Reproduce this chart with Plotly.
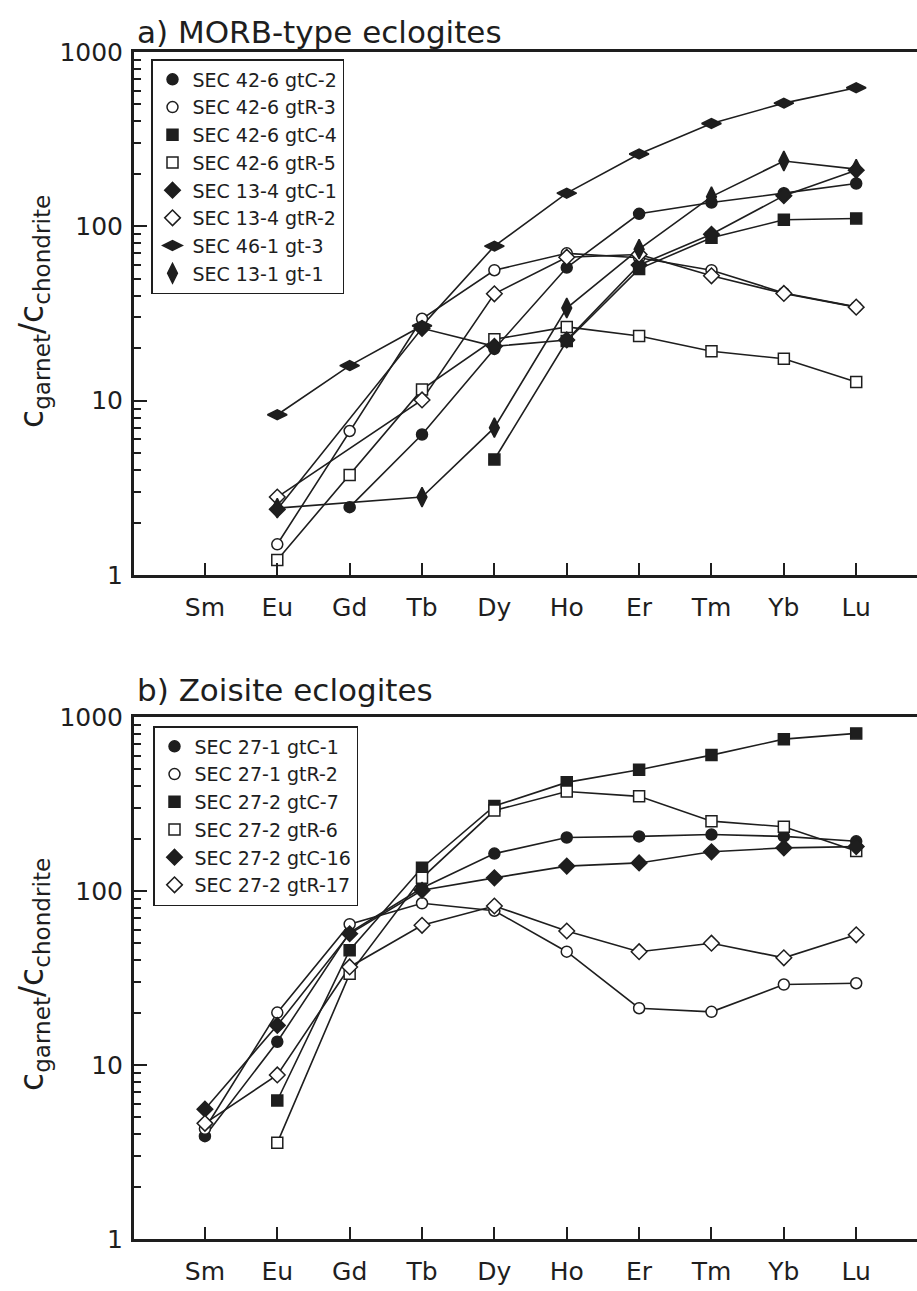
import plotly.graph_objects as go

# ---------------- data ----------------
elements = ["Sm", "Eu", "Gd", "Tb", "Dy", "Ho", "Er", "Tm", "Yb", "Lu"]

# a) MORB-type eclogites
a_names = ["SEC 42-6 gtC-2", "SEC 42-6 gtR-3", "SEC 42-6 gtC-4", "SEC 42-6 gtR-5",
           "SEC 13-4 gtC-1", "SEC 13-4 gtR-2", "SEC 46-1 gt-3", "SEC 13-1 gt-1"]
sec42_6_gtC2 = [None, None, 2.45, 6.4, 19.8, 58, 118, 137, 155, 176]
sec42_6_gtR3 = [None, 1.5, 6.7, 29.5, 56, 70, 66, 56, 41.5, 34.5]
sec42_6_gtC4 = [None, None, None, None, 4.6, 22, 57, 86, 109, 111]
sec42_6_gtR5 = [None, 1.22, 3.75, 11.6, 22.5, 26.5, 23.5, 19.2, 17.4, 12.8]
sec13_4_gtC1 = [None, 2.38, None, 26.0, 20.5, 22.3, 60, 90, 150, 210]
sec13_4_gtR2 = [None, 2.8, None, 10.1, 41, 66.5, 69, 52, 41.2, 34.4]
sec46_1_gt3 = [None, 8.3, 15.9, 26.9, 77, 155, 260, 389, 509, 624]
sec13_1_gt1 = [None, 2.42, None, 2.8, 7.0, 34, 74, 148, 237, 213]
a_series = [sec42_6_gtC2, sec42_6_gtR3, sec42_6_gtC4, sec42_6_gtR5,
            sec13_4_gtC1, sec13_4_gtR2, sec46_1_gt3, sec13_1_gt1]

# b) Zoisite eclogites
b_names = ["SEC 27-1 gtC-1", "SEC 27-1 gtR-2", "SEC 27-2 gtC-7", "SEC 27-2 gtR-6",
           "SEC 27-2 gtC-16", "SEC 27-2 gtR-17"]
sec27_1_gtC1 = [3.9, 13.6, 57.7, 104, 164, 203, 206, 211, 206, 193]
sec27_1_gtR2 = [4.3, 20, 64.5, 85, 77, 44.8, 21.2, 20.2, 29, 29.5]
sec27_2_gtC7 = [None, 6.25, 45.7, 136, 308, 421, 498, 604, 746, 805]
sec27_2_gtR6 = [None, 3.57, 33.4, 119, 290, 373, 350, 252, 234, 170]
sec27_2_gtC16 = [5.57, 16.9, 56.8, 101, 119, 139, 145, 168, 177, 180]
sec27_2_gtR17 = [4.62, 8.77, 36.6, 63.5, 82, 58.9, 44.8, 50.1, 41.3, 56]
b_series = [sec27_1_gtC1, sec27_1_gtR2, sec27_2_gtC7, sec27_2_gtR6,
            sec27_2_gtC16, sec27_2_gtR17]

y_tick_vals = [1, 10, 100, 1000]
y_tick_text = ["1", "10", "100", "1000"]

# ---------------- styles ----------------
INK = "#1e1e1e"
FONT = "DejaVu Sans"
a_styles = [("circle", INK, 11), ("circle", "white", 11), ("square", INK, 11),
            ("square", "white", 11), ("diamond", INK, 12), ("diamond", "white", 12),
            ("diamond-wide", INK, 14), ("diamond-tall", INK, 14)]
b_styles = [("circle", INK, 11), ("circle", "white", 11), ("square", INK, 11),
            ("square", "white", 11), ("diamond", INK, 12), ("diamond", "white", 12)]

W, H = 917, 1291
xpos = list(range(len(elements)))

fig = go.Figure()


def add_panel(series, names, styles, xa, ya, legend):
    for s in series:
        fig.add_trace(go.Scatter(x=xpos, y=s, mode="lines", connectgaps=True,
                                 line=dict(color=INK, width=1.6), showlegend=False,
                                 hoverinfo="skip", xaxis=xa, yaxis=ya))
    for s, n, (sym, fill, size) in zip(series, names, styles):
        fig.add_trace(go.Scatter(x=xpos, y=s, mode="markers", name=n,
                                 marker=dict(symbol=sym, color=fill, size=size,
                                             line=dict(color=INK, width=1.5)),
                                 xaxis=xa, yaxis=ya, legend=legend))


add_panel(a_series, a_names, a_styles, "x", "y", "legend")
add_panel(b_series, b_names, b_styles, "x2", "y2", "legend2")

x_left = 134 / W
xrange = [-0.98, 9.84]


def xaxis_cfg():
    return dict(domain=[x_left, 1], range=xrange, tickmode="array", tickvals=xpos,
                ticktext=elements, ticks="inside", ticklen=12, tickwidth=2,
                tickcolor=INK, showline=True, linewidth=3, linecolor=INK,
                mirror=True, showgrid=False, zeroline=False,
                tickfont=dict(family=FONT, size=25, color=INK),
                ticklabelstandoff=8)


minor_vals = [m * 10 ** d for d in range(3) for m in range(2, 10)]


def yaxis_cfg(top_px, bot_px, anchor):
    return dict(type="log", domain=[1 - bot_px / H, 1 - top_px / H], range=[0, 3],
                anchor=anchor, tickmode="array", tickvals=y_tick_vals,
                ticktext=y_tick_text, ticks="inside", ticklen=13, tickwidth=2,
                tickcolor=INK, showline=True, linewidth=3, linecolor=INK,
                mirror=False, showgrid=False, zeroline=False,
                tickfont=dict(family=FONT, size=25, color=INK),
                ticklabelstandoff=3,
                minor=dict(tickmode="array", tickvals=minor_vals, ticks="inside",
                           ticklen=7, tickwidth=1.6, tickcolor=INK, showgrid=False))


ax = xaxis_cfg(); ax["anchor"] = "y"
ax2 = xaxis_cfg(); ax2["anchor"] = "y2"

ytitle = "c<sub>garnet</sub>/c<sub>chondrite</sub>"

leg_common = dict(bgcolor="white", bordercolor=INK, borderwidth=1.5,
                  font=dict(family=FONT, size=19, color=INK),
                  xanchor="left", yanchor="top", tracegroupgap=0)

fig.update_layout(
    width=W, height=H, margin=dict(l=0, r=0, t=0, b=0, autoexpand=False),
    paper_bgcolor="white", plot_bgcolor="white",
    font=dict(family=FONT, color=INK),
    xaxis=ax, xaxis2=ax2,
    yaxis=yaxis_cfg(52, 575, "x"), yaxis2=yaxis_cfg(717, 1239, "x2"),
    legend=dict(x=151 / W, y=1 - 59 / H, **leg_common),
    legend2=dict(x=153 / W, y=1 - 726 / H, **leg_common),
    annotations=[
        dict(text="a) MORB-type eclogites", xref="paper", yref="paper",
             x=135 / W, y=1 - 32 / H, xanchor="left", yanchor="middle",
             showarrow=False, font=dict(family=FONT, size=31, color=INK)),
        dict(text="b) Zoisite eclogites", xref="paper", yref="paper",
             x=135 / W, y=1 - 690 / H, xanchor="left", yanchor="middle",
             showarrow=False, font=dict(family=FONT, size=31, color=INK)),
        dict(text=ytitle, xref="paper", yref="paper", textangle=-90,
             x=33 / W, y=1 - 312 / H, xanchor="center", yanchor="middle",
             showarrow=False, font=dict(family=FONT, size=33, color=INK)),
        dict(text=ytitle, xref="paper", yref="paper", textangle=-90,
             x=33 / W, y=1 - 975 / H, xanchor="center", yanchor="middle",
             showarrow=False, font=dict(family=FONT, size=33, color=INK)),
    ],
)

fig.write_html("out.html")
